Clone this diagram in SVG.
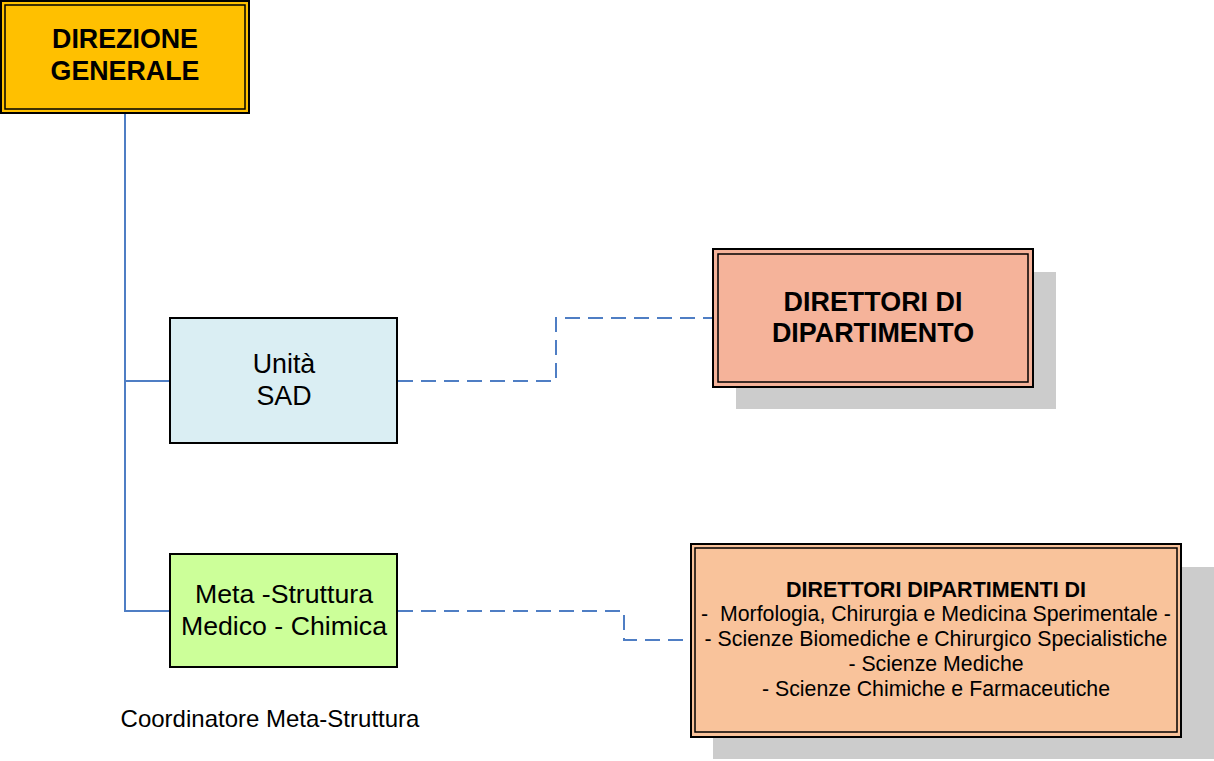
<svg xmlns="http://www.w3.org/2000/svg" width="1214" height="761" viewBox="0 0 1214 761">
<style>
.t{font-family:"Liberation Sans",Arial,sans-serif;fill:#000;text-anchor:middle}
.b{font-weight:bold}
.box{stroke:#000;stroke-width:2}
.in{fill:none;stroke:#000;stroke-width:1.5}
.sh{fill:#CCCCCC}
.solid{fill:none;stroke:#4F7EC4;stroke-width:2}
.dash{fill:none;stroke:#4F7EC4;stroke-width:2;stroke-dasharray:15 8}
</style>
<rect width="1214" height="761" fill="#fff"/>
<g id="connectors">
<path class="solid" d="M125 113 V611 H171 M125 381 H171"/>
<path class="dash" d="M398 381 H556 V318 H713"/>
<path class="dash" d="M398 611 H624 V640 H691"/>
</g>
<g id="direzione-generale">
<rect class="box" x="1" y="1" width="248" height="112" fill="#FFC000"/>
<rect class="in" x="5" y="5" width="240" height="104"/>
<text class="t b" x="125" y="48" font-size="26.8">DIREZIONE</text>
<text class="t b" x="125" y="80" font-size="26.8">GENERALE</text>
</g>
<g id="unita-sad">
<rect class="box" x="170" y="318" width="227" height="125" fill="#DAEEF3"/>
<text class="t" x="284" y="373" font-size="26.8">Unità</text>
<text class="t" x="284" y="405" font-size="26.8">SAD</text>
</g>
<g id="meta-struttura">
<rect class="box" x="170" y="554" width="227" height="113" fill="#CCFF99"/>
<text class="t" x="284" y="603" font-size="26.7">Meta -Struttura</text>
<text class="t" x="284" y="635" font-size="26.7">Medico - Chimica</text>
</g>
<g id="coordinatore">
<text class="t" x="270" y="727" font-size="24">Coordinatore Meta-Struttura</text>
</g>
<g id="direttori-dipartimento">
<rect class="sh" x="736" y="272" width="320" height="137"/>
<rect class="box" x="713" y="249" width="320" height="138" fill="#F5B39A"/>
<rect class="in" x="718" y="254" width="310" height="128"/>
<text class="t b" x="873" y="311" font-size="26.9">DIRETTORI DI</text>
<text class="t b" x="873" y="342" font-size="26.9">DIPARTIMENTO</text>
</g>
<g id="direttori-dipartimenti">
<rect class="sh" x="713" y="567" width="501" height="192"/>
<rect class="box" x="691" y="544" width="490" height="193" fill="#F9C39B"/>
<rect class="in" x="695" y="548" width="482" height="184"/>
<text class="t b" x="936" y="597" font-size="21.5">DIRETTORI DIPARTIMENTI DI</text>
<text class="t" x="936" y="621" font-size="21.3" xml:space="preserve">-  Morfologia, Chirurgia e Medicina Sperimentale -</text>
<text class="t" x="936" y="646" font-size="21.3">- Scienze Biomediche e Chirurgico Specialistiche</text>
<text class="t" x="936" y="671" font-size="21.3">- Scienze Mediche</text>
<text class="t" x="936" y="696" font-size="21.3">- Scienze Chimiche e Farmaceutiche</text>
</g>
</svg>
